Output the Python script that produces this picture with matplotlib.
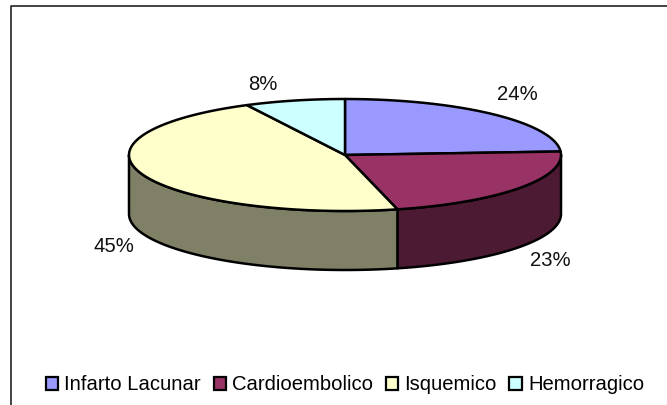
import numpy as np
import matplotlib
matplotlib.use("Agg")
import matplotlib.pyplot as plt
from matplotlib.patches import Patch

categories = ["Infarto Lacunar", "Cardioembolico", "Isquemico", "Hemorragico"]
labels = ["24%", "23%", "45%", "8%"]
# slice shares as drawn (the 3d projection bends them a bit from the labels)
shares = [24.0, 22.1, 46.4, 7.5]
top_colors = ["#9999FF", "#993366", "#FFFFCC", "#CCFFFF"]
side_colors = ["#4D4D80", "#4D1A33", "#808066", "#668080"]

# pie geometry in pixels
cx, cy = 345, 155
rx, ry = 216, 56
depth = 59

plt.rcParams["font.family"] = ["Liberation Sans", "DejaVu Sans"]

fig = plt.figure(figsize=(6.67, 4.05), dpi=100)
ax = fig.add_axes([0, 0, 1, 1])
ax.set_xlim(0, 667)
ax.set_ylim(405, 0)
ax.axis("off")

# frame, open at the bottom and right where the picture is cut
ax.plot([10.5, 10.5, 667], [405, 5.5, 5.5], color="#222222", lw=1.2)

edges = np.cumsum([0] + shares) / sum(shares) * 2 * np.pi


def ell(t, dy=0):
    return cx + rx * np.sin(t), cy - ry * np.cos(t) + dy


# side wall, only the front half (pi/2 to 3pi/2) shows
for i in range(4):
    a = max(edges[i], np.pi / 2)
    b = min(edges[i + 1], 3 * np.pi / 2)
    if a >= b:
        continue
    t = np.linspace(a, b, 100)
    x, y = ell(t)
    x2, y2 = ell(t[::-1], depth)
    ax.fill(np.r_[x, x2], np.r_[y, y2], facecolor=side_colors[i],
            edgecolor="black", lw=1.8, joinstyle="round")

# top face
for i in range(4):
    t = np.linspace(edges[i], edges[i + 1], 100)
    x, y = ell(t)
    ax.fill(np.r_[cx, x], np.r_[cy, y], facecolor=top_colors[i],
            edgecolor="black", lw=1.8, joinstyle="round")

# percent labels
label_x = [517, 550, 114, 263]
label_y = [94, 260, 246, 84]
for s, lx, ly in zip(labels, label_x, label_y):
    ax.text(lx, ly, s, ha="center", va="center", fontsize=14.6, color="#111111")

handles = [Patch(facecolor=c, edgecolor="black", lw=1.6) for c in top_colors]
ax.legend(handles, categories, loc="center", bbox_to_anchor=(345, 385),
          bbox_transform=ax.transData, ncol=4, frameon=False, fontsize=14.6,
          handlelength=0.62, handleheight=0.62, handletextpad=0.3,
          columnspacing=0.62, borderpad=0, borderaxespad=0, labelspacing=0)

fig.savefig("out.png", dpi=100)
